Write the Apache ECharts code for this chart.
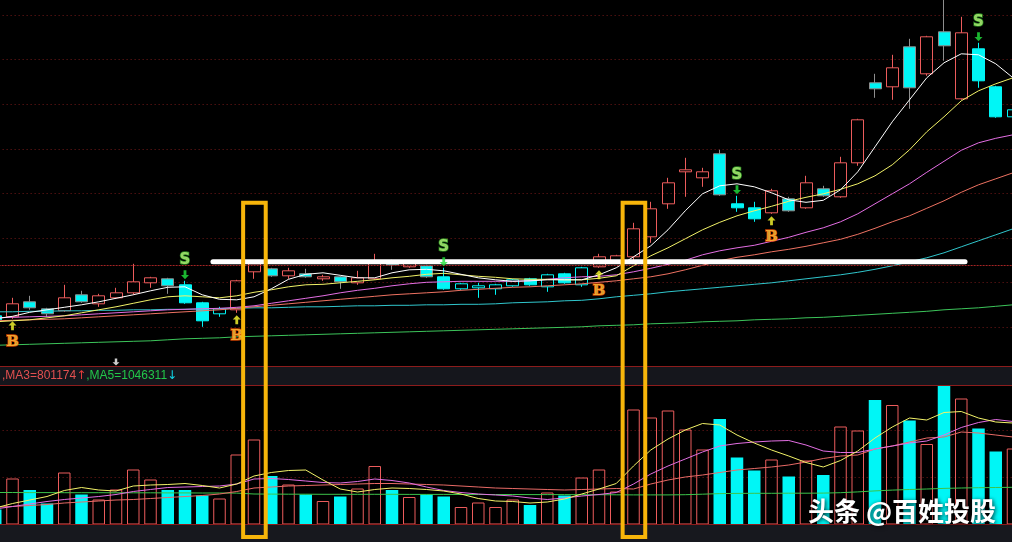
<!DOCTYPE html>
<html><head><meta charset="utf-8">
<script src="https://cdn.jsdelivr.net/npm/echarts@6/dist/echarts.min.js"></script>
<style>html,body{margin:0;padding:0;background:#000;}#c{width:1012px;height:542px;}</style>
</head><body><div id="c"></div>
<script>
// ---------------- data ----------------
const categories = Array.from({length: 60}, (_, i) => String(i + 1));
// [open, close, low, high]
const candles = [
[5.02,4.98,4.96,5.04],[5.01,5.14,4.99,5.20],[5.16,5.10,5.08,5.22],[5.09,5.04,5.01,5.10],[5.07,5.20,5.06,5.33],
[5.23,5.16,5.15,5.27],[5.14,5.22,5.11,5.24],[5.20,5.25,5.19,5.30],[5.25,5.36,5.23,5.54],[5.35,5.40,5.30,5.41],
[5.39,5.32,5.24,5.40],[5.33,5.15,5.14,5.37],[5.15,4.97,4.91,5.16],[5.04,5.09,5.01,5.11],[5.08,5.37,5.05,5.38],
[5.46,5.54,5.39,5.56],[5.49,5.42,5.41,5.50],[5.42,5.47,5.39,5.50],[5.44,5.41,5.40,5.49],[5.39,5.41,5.37,5.43],
[5.41,5.36,5.29,5.42],[5.35,5.40,5.33,5.47],[5.39,5.55,5.38,5.64],[5.56,5.53,5.48,5.58],[5.51,5.55,5.50,5.57],
[5.52,5.41,5.40,5.53],[5.41,5.29,5.28,5.50],[5.29,5.34,5.28,5.35],[5.30,5.32,5.20,5.35],[5.29,5.33,5.23,5.34],
[5.32,5.38,5.31,5.39],[5.39,5.33,5.32,5.40],[5.31,5.43,5.26,5.44],[5.44,5.35,5.34,5.45],[5.33,5.50,5.31,5.51],
[5.51,5.61,5.50,5.64],[5.55,5.62,5.54,5.63],[5.61,5.89,5.56,5.95],[5.81,6.09,5.75,6.16],[6.14,6.35,6.09,6.40],
[6.46,6.48,6.21,6.60],[6.40,6.46,6.31,6.50],[6.64,6.23,6.22,6.68],[6.14,6.10,6.06,6.22],[6.10,5.99,5.96,6.16],
[6.05,6.27,6.04,6.29],[6.19,6.07,6.06,6.21],[6.10,6.35,6.09,6.42],[6.29,6.22,6.21,6.32],[6.21,6.55,6.20,6.61],
[6.55,6.98,6.52,6.99],[7.35,7.29,7.20,7.44],[7.31,7.50,7.18,7.63],[7.71,7.30,7.09,7.79],[7.44,7.81,7.42,7.82],
[7.86,7.72,7.57,8.21],[7.19,7.85,7.18,8.01],[7.69,7.37,7.30,7.75],[7.31,7.01,7.00,7.32],[7.01,7.08,7.00,7.09]
];
const volumes = [
150000,460000,345000,210000,520000,300000,250000,350000,550000,450000,
345000,345000,290000,260000,700000,850000,485000,400000,300000,235000,
280000,360000,585000,345000,275000,300000,280000,175000,220000,175000,
250000,195000,320000,290000,470000,550000,330000,1150000,1070000,1140000,
950000,750000,1055000,670000,540000,650000,480000,640000,495000,980000,
940000,1245000,1195000,1040000,805000,1385000,1260000,960000,730000,760000
];
const ma5 = [
4.99,5.015,5.055,5.08,5.105,5.13,5.16,5.195,5.23,5.27,
5.305,5.31,5.23,5.185,5.18,5.21,5.29,5.385,5.435,5.45,
5.425,5.40,5.40,5.45,5.48,5.485,5.47,5.435,5.40,5.38,
5.365,5.37,5.38,5.38,5.38,5.43,5.50,5.61,5.72,5.88,
6.07,6.24,6.32,6.34,6.31,6.25,6.18,6.155,6.175,6.28,
6.46,6.71,6.96,7.18,7.40,7.55,7.64,7.63,7.54,7.40
];
const ma10 = [
4.96,4.97,4.98,5.00,5.02,5.05,5.08,5.11,5.145,5.18,
5.21,5.22,5.21,5.20,5.22,5.255,5.28,5.31,5.33,5.335,
5.35,5.365,5.38,5.40,5.415,5.435,5.445,5.43,5.415,5.405,
5.39,5.385,5.385,5.38,5.38,5.395,5.42,5.52,5.62,5.70,
5.79,5.88,5.955,6.02,6.07,6.115,6.165,6.205,6.24,6.285,
6.34,6.42,6.53,6.68,6.86,7.01,7.17,7.27,7.34,7.40
];
const ma20 = [
5.00,5.005,5.01,5.015,5.02,5.03,5.04,5.05,5.06,5.07,
5.08,5.085,5.09,5.095,5.105,5.12,5.145,5.17,5.195,5.22,
5.25,5.275,5.295,5.32,5.34,5.355,5.36,5.365,5.365,5.365,
5.365,5.37,5.385,5.40,5.41,5.415,5.43,5.46,5.495,5.535,
5.575,5.63,5.67,5.70,5.725,5.765,5.805,5.855,5.90,5.96,
6.04,6.14,6.24,6.34,6.455,6.565,6.675,6.75,6.795,6.83
];
const ma30 = [
4.97,4.975,4.98,4.985,4.99,5.00,5.01,5.02,5.03,5.04,
5.05,5.06,5.07,5.08,5.095,5.11,5.125,5.14,5.155,5.17,
5.185,5.20,5.215,5.23,5.24,5.25,5.26,5.275,5.285,5.295,
5.305,5.31,5.32,5.33,5.34,5.355,5.37,5.39,5.41,5.44,
5.48,5.525,5.57,5.605,5.63,5.66,5.685,5.715,5.75,5.785,
5.835,5.895,5.96,6.02,6.095,6.17,6.255,6.33,6.39,6.45
];
const ma60 = [
5.06,5.06,5.065,5.065,5.07,5.07,5.075,5.075,5.08,5.08,
5.085,5.085,5.09,5.09,5.095,5.10,5.10,5.105,5.11,5.11,
5.115,5.12,5.12,5.125,5.125,5.13,5.13,5.135,5.135,5.14,
5.15,5.155,5.16,5.17,5.175,5.19,5.21,5.225,5.24,5.26,
5.275,5.29,5.305,5.32,5.335,5.35,5.37,5.39,5.41,5.43,
5.455,5.485,5.52,5.56,5.60,5.65,5.71,5.77,5.83,5.89
];
const ma120 = [
4.725,4.73,4.735,4.74,4.745,4.75,4.755,4.76,4.765,4.77,
4.78,4.79,4.795,4.80,4.81,4.815,4.82,4.825,4.83,4.835,
4.84,4.845,4.85,4.855,4.86,4.865,4.87,4.875,4.88,4.885,
4.89,4.895,4.90,4.905,4.91,4.92,4.925,4.93,4.94,4.945,
4.95,4.96,4.965,4.97,4.98,4.985,4.99,5.00,5.005,5.015,
5.025,5.035,5.045,5.055,5.065,5.08,5.09,5.10,5.115,5.13
];
const volMa5 = [
165000,210000,245000,280000,340000,370000,345000,335000,385000,395000,
400000,410000,390000,365000,405000,485000,520000,540000,545000,445000,
355000,325000,350000,365000,360000,350000,335000,305000,260000,235000,
230000,215000,225000,255000,305000,355000,410000,585000,745000,855000,
945000,1010000,995000,895000,815000,745000,685000,620000,575000,640000,
735000,865000,975000,1065000,1045000,1120000,1130000,1065000,1025000,1015000
];
const volMa10 = [
155000,180000,205000,230000,250000,265000,280000,300000,330000,350000,
370000,375000,380000,385000,405000,455000,460000,450000,435000,420000,
415000,430000,455000,440000,415000,375000,340000,320000,305000,295000,
285000,265000,250000,265000,285000,300000,320000,405000,505000,585000,
655000,725000,785000,810000,825000,835000,840000,795000,735000,720000,
720000,755000,785000,815000,835000,895000,970000,1020000,1050000,1030000
];
const volMa20 = [
175000,180000,190000,200000,215000,225000,235000,245000,250000,260000,
270000,280000,290000,305000,330000,365000,375000,385000,390000,395000,
400000,405000,410000,410000,405000,400000,395000,385000,375000,365000,
360000,355000,350000,345000,350000,355000,360000,355000,405000,445000,
475000,495000,520000,545000,560000,575000,595000,625000,660000,685000,
695000,755000,785000,825000,865000,875000,925000,915000,895000,875000
];
const volMaLong = [
320000,320000,319000,319000,318000,318000,318000,317000,317000,317000,
316000,316000,315000,315000,314000,305000,304000,303000,303000,302000,
302000,302000,302000,302000,301000,301000,301000,300000,300000,300000,
300000,299000,299000,299000,298000,298000,297000,296000,296000,296000,
298000,303000,309000,311000,312000,312000,313000,313000,314000,318000,
326000,336000,344000,350000,355000,361000,365000,368000,370000,372000
];
const buySignals = [1, 14, 35, 45];
const sellSignals = [11, 26, 43, 57];
const whiteMarks = [[7, 4.558]];
const refPrice = 5.53;
const trendLine = [[12.62, 5.56], [56.22, 5.56]];
const highlightIdx = [15, 37];
const bandParts = [',MA3=801174', '↑', ',MA5=1046311', '↓'];
const watermark = '头条 @百姓投股';

// ---------------- styles ----------------
const RED = '#ec5c5c', CYAN = '#00f6f6', GREY = '#8e8e8e';
const HOLLOW = 'rgba(0,0,0,0)';
const UP_ARROW = 'path://M4,0 L8,4.2 L5.4,4.2 L5.4,9 L2.6,9 L2.6,4.2 L0,4.2 Z';
const DOWN_ARROW = 'path://M2.6,0 L5.4,0 L5.4,4.8 L8,4.8 L4,9 L0,4.8 L2.6,4.8 Z';

let state = 'S';
const candleData = candles.map((d, i) => {
  if (buySignals.includes(i)) state = 'B';
  if (sellSignals.includes(i)) state = 'S';
  const up = d[1] >= d[0];
  let st;
  if (up) {
    const bc = state === 'B' ? RED : CYAN;
    st = {color: HOLLOW, color0: HOLLOW, borderColor: bc, borderColor0: bc};
  } else {
    const bc = state === 'B' ? GREY : CYAN;
    st = {color: CYAN, color0: CYAN, borderColor: bc, borderColor0: bc};
  }
  return {value: d, itemStyle: st};
});
const volData = volumes.map((v, i) => {
  const up = candles[i][1] >= candles[i][0];
  return {value: v, itemStyle: up ? {color: HOLLOW, borderColor: RED, borderWidth: 1} : {color: CYAN, borderColor: CYAN, borderWidth: 0}};
});

function lineS(name, data, color, xi, yi, z) {
  return {name, type: 'line', xAxisIndex: xi, yAxisIndex: yi, data, symbol: 'none', showSymbol: false,
    silent: true, z: z || 3, lineStyle: {color, width: 1}};
}
const gridLine = {show: true, lineStyle: {color: '#741818', type: [1, 3], width: 1}};
const hiddenAxis = {axisLine: {show: false}, axisTick: {show: false}, axisLabel: {show: false}};

const chart = echarts.init(document.getElementById('c'), null, {renderer: 'canvas'});
const option = {
  backgroundColor: '#000',
  animation: false,
  grid: [
    {left: -13.375, width: 1035, top: -29.6, height: 401.4, outerBoundsMode: 'none', containLabel: false},
    {left: -13.375, width: 1035, top: 383.8, height: 140.7, outerBoundsMode: 'none', containLabel: false}
  ],
  xAxis: [
    {type: 'category', gridIndex: 0, data: categories, boundaryGap: true, ...hiddenAxis, splitLine: {show: false}},
    {type: 'category', gridIndex: 1, data: categories, boundaryGap: true, ...hiddenAxis, splitLine: {show: false}},
    {type: 'value', gridIndex: 0, min: -0.5, max: 59.5, position: 'top', ...hiddenAxis, splitLine: {show: false}}
  ],
  yAxis: [
    {type: 'value', gridIndex: 0, min: 4.46, max: 8.474, interval: 0.446, ...hiddenAxis, splitLine: gridLine},
    {type: 'value', gridIndex: 1, min: 0, max: 1407000, interval: 469000, ...hiddenAxis, splitLine: gridLine}
  ],
  series: [
    {type: 'candlestick', xAxisIndex: 0, yAxisIndex: 0, data: candleData, barWidth: 12.5, z: 2, silent: true,
      itemStyle: {borderWidth: 1},
      markLine: {silent: true, symbol: ['none', 'none'], label: {show: false},
        lineStyle: {color: '#a42424', type: [2, 1], width: 1}, data: [{yAxis: refPrice}]}},
    lineS('MA120', ma120, '#3cc45a', 0, 0),
    lineS('MA60', ma60, '#30c6cc', 0, 0),
    lineS('MA30', ma30, '#ee7262', 0, 0),
    lineS('MA20', ma20, '#e46ee4', 0, 0),
    lineS('MA10', ma10, '#f2f268', 0, 0),
    lineS('MA5', ma5, '#ffffff', 0, 0),
    {type: 'line', xAxisIndex: 2, yAxisIndex: 0, data: trendLine, symbol: 'none', silent: true, z: 8,
      lineStyle: {color: '#ffffff', width: 5, cap: 'round'}},
    {type: 'scatter', xAxisIndex: 0, yAxisIndex: 0, z: 9, silent: true,
      data: buySignals.map(i => [i, candles[i][2]]), symbol: UP_ARROW, symbolSize: [8, 9], symbolOffset: [0, 7],
      itemStyle: {color: '#ffff30'}},
    {type: 'scatter', xAxisIndex: 0, yAxisIndex: 0, z: 9, silent: true,
      data: buySignals.map(i => [i, candles[i][2]]), symbol: 'rect', symbolSize: 1, itemStyle: {color: HOLLOW},
      label: {show: true, position: 'inside', offset: [0, 23], formatter: 'B', color: '#ffc23a',
        textBorderColor: '#ff5200', textBorderWidth: 1.6, fontSize: 15, fontWeight: 'bold', fontFamily: 'DejaVu Serif'}},
    {type: 'scatter', xAxisIndex: 0, yAxisIndex: 0, z: 9, silent: true,
      data: sellSignals.map(i => [i, candles[i][3]]), symbol: DOWN_ARROW, symbolSize: [8, 9], symbolOffset: [0, -6],
      itemStyle: {color: '#22e23c'}},
    {type: 'scatter', xAxisIndex: 0, yAxisIndex: 0, z: 9, silent: true,
      data: sellSignals.map(i => [i, candles[i][3]]), symbol: 'rect', symbolSize: 1, itemStyle: {color: HOLLOW},
      label: {show: true, position: 'inside', offset: [0, -21], formatter: 'S', color: '#b6ff7c',
        textBorderColor: '#2e9a26', textBorderWidth: 1.6, fontSize: 15, fontWeight: 'bold', fontFamily: 'DejaVu Sans'}},
    {type: 'scatter', xAxisIndex: 0, yAxisIndex: 0, z: 9, silent: true,
      data: whiteMarks, symbol: DOWN_ARROW, symbolSize: [7, 7], itemStyle: {color: '#ffffff'}},
    {type: 'bar', xAxisIndex: 1, yAxisIndex: 1, data: volData, barWidth: 12.5, z: 2, silent: true},
    lineS('VMALong', volMaLong, '#3cc44a', 1, 1),
    lineS('VMA20', volMa20, '#e86a66', 1, 1),
    lineS('VMA10', volMa10, '#e26ee2', 1, 1),
    lineS('VMA5', volMa5, '#f2f268', 1, 1)
  ]
};
chart.setOption(option);

// decorations (band, borders, annotation boxes) placed through the chart's own scales
const boxes = highlightIdx.map(i => {
  const x1 = chart.convertToPixel({xAxisIndex: 2}, i - 0.63);
  const x2 = chart.convertToPixel({xAxisIndex: 2}, i + 0.68);
  const y1 = chart.convertToPixel({yAxisIndex: 0}, 6.15);
  const y2 = chart.convertToPixel({yAxisIndex: 1}, -125000);
  return {type: 'rect', z: 300, silent: true, shape: {x: x1, y: y1, width: x2 - x1, height: y2 - y1},
    style: {fill: null, stroke: '#f7b50a', lineWidth: 4}};
});
chart.setOption({
  graphic: [
    {type: 'rect', z: 100, silent: true, shape: {x: 0, y: 366, width: 1012, height: 20}, style: {fill: '#15161c'}},
    {type: 'rect', z: 100, silent: true, shape: {x: 0, y: 525, width: 1012, height: 17}, style: {fill: '#17181e'}},
    {type: 'line', z: 101, silent: true, shape: {x1: 0, y1: 366.5, x2: 1012, y2: 366.5}, style: {stroke: '#8c1c1c', lineWidth: 1}},
    {type: 'line', z: 101, silent: true, shape: {x1: 0, y1: 385.5, x2: 1012, y2: 385.5}, style: {stroke: '#8c1c1c', lineWidth: 1}},
    {type: 'line', z: 101, silent: true, shape: {x1: 0, y1: 524.5, x2: 1012, y2: 524.5}, style: {stroke: '#8c1c1c', lineWidth: 1}},
    {type: 'text', z: 102, silent: true, x: 2, y: 376,
      style: {text: '{a|' + bandParts[0] + '}{b|' + bandParts[1] + '}{c|' + bandParts[2] + '}{d|' + bandParts[3] + '}',
        verticalAlign: 'middle', font: '12px "Liberation Sans"',
        rich: {a: {fill: '#e25050', font: '12px "Liberation Sans"'}, b: {fill: '#e23a3a', font: '12px "DejaVu Sans"'},
               c: {fill: '#22c84a', font: '12px "Liberation Sans"'}, d: {fill: '#10d8ea', font: '12px "DejaVu Sans"'}}}},
    {type: 'text', z: 250, silent: true, x: 808, y: 511,
      style: {text: watermark, fill: '#ffffff', font: 'bold 26px "Noto Sans CJK SC"', verticalAlign: 'middle',
        textShadowColor: 'rgba(0,0,0,0.85)', textShadowBlur: 4, textShadowOffsetX: 1, textShadowOffsetY: 1}},
    ...boxes
  ]
});
</script>
</body></html>
